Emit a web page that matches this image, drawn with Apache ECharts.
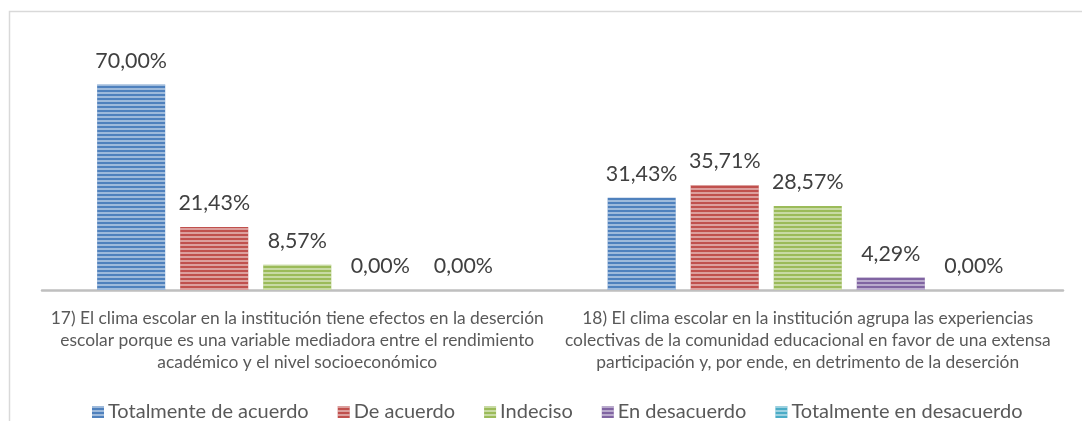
<!DOCTYPE html>
<html><head><meta charset="utf-8">
<script src="https://cdn.jsdelivr.net/npm/echarts@6/dist/echarts.min.js"></script>
<style>html,body{margin:0;padding:0;background:#fff}#c{width:1082px;height:421px}</style>
</head><body><div id="c"></div>
<script>
const categories = [
  "17) El clima escolar en la institución tiene efectos en la deserción\nescolar porque es una variable mediadora entre el rendimiento\nacadémico y el nivel socioeconómico",
  "18) El clima escolar en la institución agrupa las experiencias\ncolectivas de la comunidad educacional en favor de una extensa\nparticipación y, por ende, en detrimento de la deserción"
];
const seriesNames = ["Totalmente de acuerdo","De acuerdo","Indeciso","En desacuerdo","Totalmente en desacuerdo"];
const totalmenteDeAcuerdo = [70.00, 31.43];
const deAcuerdo = [21.43, 35.71];
const indeciso = [8.57, 28.57];
const enDesacuerdo = [0.00, 4.29];
const totalmenteEnDesacuerdo = [0.00, 0.00];
const seriesValues = [totalmenteDeAcuerdo, deAcuerdo, indeciso, enDesacuerdo, totalmenteEnDesacuerdo];
const colors = ["#4F81BD","#C0504D","#9BBB59","#8064A2","#4BACC6"];

const chart = echarts.init(document.getElementById('c'), null, {renderer:'canvas'});
const FONT = 'Lato';
chart.setOption({
  animation:false,
  aria:{enabled:true, decal:{show:true}},
  color: colors,
  graphic:[{type:'rect', shape:{x:9.5,y:11.5,width:1200,height:600}, style:{fill:'none',stroke:'#d9d9d9',lineWidth:1.5}, silent:true, z:-1}],
  grid:{left:42, right:19, top:55, bottom:131},
  legend:{
    top:397, left:87, icon:'rect', itemWidth:12, itemHeight:12, itemGap:29,
    textStyle:{fontFamily:FONT, fontSize:20, lineHeight:20, color:'#595959', padding:[0,0,0,-1]},
    data: seriesNames
  },
  xAxis:{
    type:'category', data:categories,
    axisLine:{lineStyle:{color:'#bfbfbf', width:2.5}},
    axisTick:{show:false},
    axisLabel:{fontFamily:FONT, fontSize:17.4, color:'#595959', lineHeight:22, margin:17, interval:0, align:'center'}
  },
  yAxis:{type:'value', min:0, max:80, show:false, splitLine:{show:false}},
  series: seriesNames.map((n,i)=>({
    name:n, type:'bar', data:seriesValues[i],
    barGap:'22%', barCategoryGap:'21.6%',
    itemStyle:{color:colors[i], decal:{symbol:'rect', symbolSize:1, dashArrayX:[[1,0]], dashArrayY:[1.5,1.5], rotation:0, color:'rgba(255,255,255,0.45)'}},
    label:{show:true, position:'top', distance:13, fontFamily:FONT, fontSize:21.4, color:'#404040',
      formatter:p=>p.value.toFixed(2).replace('.',',')+'%'}
  }))
});
</script></body></html>
